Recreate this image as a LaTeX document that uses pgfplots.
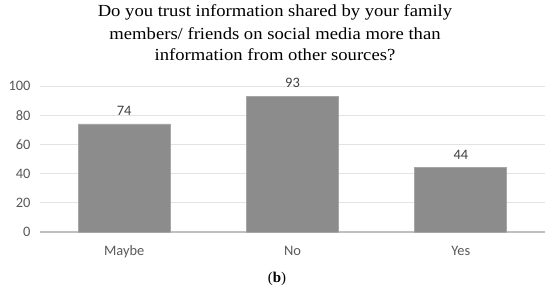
\documentclass[border=0pt]{standalone}
\usepackage{fontspec}
\setmainfont{Liberation Serif}
\newfontfamily\carl{Carlito}
\usepackage{pgfplots}
\pgfplotsset{compat=1.18}
\definecolor{barfill}{HTML}{8C8C8C}
\definecolor{barline}{HTML}{A6A6A6}
\definecolor{gridc}{HTML}{E3E3E3}
\definecolor{axc}{HTML}{BFBFBF}
\definecolor{txt}{HTML}{595959}
\definecolor{lbl}{HTML}{404040}
\begin{document}
\begin{tikzpicture}
\useasboundingbox (0,0) rectangle (550bp,293bp);
\tikzset{ttl/.style={font=\fontsize{17}{19}\selectfont, xscale=1.1}}
\node[ttl] at (275bp,281bp) {Do you trust information shared by your family};
\node[ttl] at (275bp,259.5bp) {members/ friends on social media more than};
\node[ttl] at (275bp,238bp) {information from other sources?};
\node[font=\fontsize{15}{17}\selectfont] at (277bp,14bp) {(\textbf{b})};
\begin{axis}[
  at={(40bp,61bp)}, anchor=south west,
  scale only axis, width=505bp, height=146bp,
  xmin=-0.5, xmax=2.5, ymin=0, ymax=100,
  ytick={0,20,40,60,80,100},
  xtick=data, xticklabels={Maybe,No,Yes},
  axis x line*=bottom,
  separate axis lines,
  y axis line style={draw=none},
  x axis line style={draw=axc, line width=1.2pt},
  tick style={draw=none},
  ymajorgrids, grid style={gridc, line width=0.8pt},
  ticklabel style={font=\carl\fontsize{14.5}{16}\selectfont, text=txt},
  /pgf/number format/assume math mode=true,
  yticklabel style={xshift=-6bp},
  xticklabel style={yshift=-6bp},
  ybar, bar width=92bp,
  nodes near coords,
  nodes near coords style={font=\carl\fontsize{14.5}{16}\selectfont, text=lbl, yshift=5bp},
  clip=false,
]
\addplot[fill=barfill, draw=barline, line width=0.8pt] coordinates {(0,74) (1,93) (2,44)};
\end{axis}
\end{tikzpicture}
\end{document}
